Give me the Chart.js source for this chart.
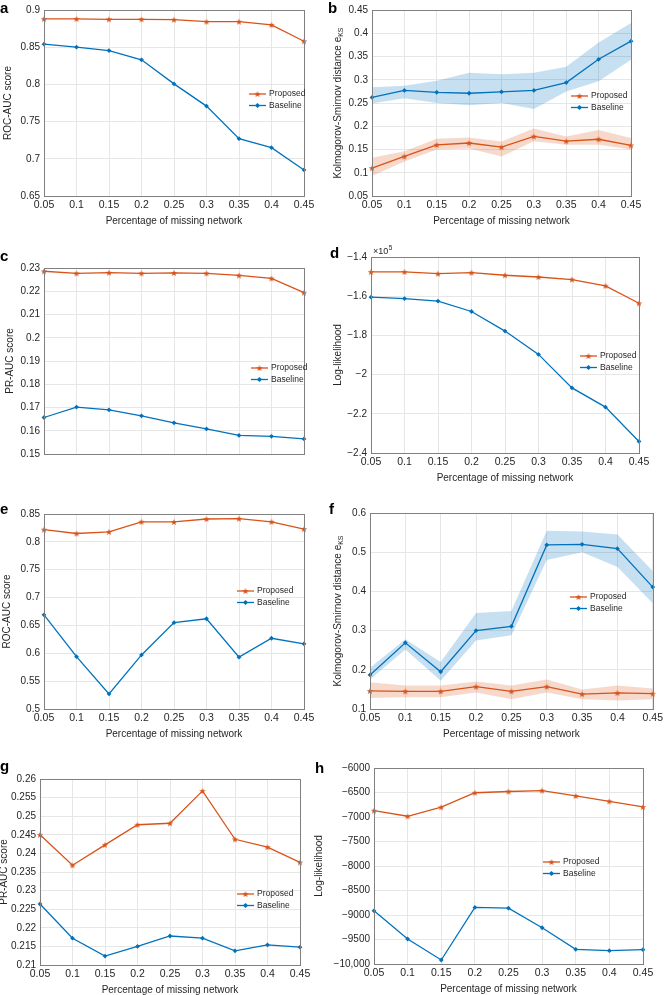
<!DOCTYPE html>
<html>
<head>
<meta charset="utf-8">
<script src="https://cdn.jsdelivr.net/npm/chart.js@4.4.0/dist/chart.umd.min.js"></script>
<style>
  body { margin: 0; background: #fff; width: 666px; height: 995px; position: relative; overflow: hidden;
         font-family: "Liberation Sans", Arial, sans-serif; }
  canvas { position: absolute; }
  .tag { position: absolute; font-weight: bold; font-size: 15px; line-height: 15px; color: #000; }
</style>
</head>
<body>
<script>
// x categories shared by every panel
const pct = ['0.05', '0.1', '0.15', '0.2', '0.25', '0.3', '0.35', '0.4', '0.45'];

// a: ROC-AUC
const rocPropA = [0.888, 0.888, 0.8875, 0.8875, 0.887, 0.8843, 0.8843, 0.880, 0.858];
const rocBaseA = [0.854, 0.850, 0.8455, 0.833, 0.8007, 0.7708, 0.727, 0.715, 0.685];

// b: KS distance with bands
const ksPropB   = [0.110, 0.135, 0.160, 0.164, 0.155, 0.178, 0.168, 0.172, 0.159];
const ksPropBHi = [0.132, 0.146, 0.173, 0.176, 0.167, 0.195, 0.178, 0.192, 0.175];
const ksPropBLo = [0.093, 0.124, 0.150, 0.152, 0.135, 0.168, 0.160, 0.160, 0.150];
const ksBaseB   = [0.262, 0.277, 0.273, 0.271, 0.274, 0.277, 0.294, 0.344, 0.383];
const ksBaseBHi = [0.284, 0.287, 0.298, 0.315, 0.312, 0.315, 0.328, 0.380, 0.422];
const ksBaseBLo = [0.249, 0.260, 0.250, 0.245, 0.250, 0.237, 0.275, 0.297, 0.343];

// c: PR-AUC
const prPropC = [0.2286, 0.2277, 0.2280, 0.2277, 0.2279, 0.2277, 0.2268, 0.2255, 0.2194];
const prBaseC = [0.1657, 0.1702, 0.1690, 0.1664, 0.1634, 0.1608, 0.1580, 0.1576, 0.1565];

// d: log-likelihood
const llPropD = [-147600, -147600, -148500, -148000, -149300, -150200, -151500, -154700, -163600];
const llBaseD = [-160500, -161200, -162500, -167800, -177800, -189700, -206800, -216600, -234100];

// e: ROC-AUC
const rocPropE = [0.822, 0.815, 0.818, 0.836, 0.8357, 0.841, 0.8416, 0.836, 0.823];
const rocBaseE = [0.669, 0.594, 0.527, 0.597, 0.655, 0.662, 0.593, 0.627, 0.617];

// f: KS distance with bands
const ksPropF   = [0.146, 0.145, 0.145, 0.157, 0.145, 0.157, 0.138, 0.141, 0.139];
const ksPropFHi = [0.168, 0.160, 0.160, 0.170, 0.160, 0.175, 0.150, 0.160, 0.152];
const ksPropFLo = [0.128, 0.130, 0.130, 0.142, 0.125, 0.142, 0.125, 0.122, 0.125];
const ksBaseF   = [0.187, 0.269, 0.195, 0.300, 0.311, 0.5185, 0.520, 0.509, 0.411];
const ksBaseFHi = [0.205, 0.278, 0.220, 0.345, 0.350, 0.555, 0.553, 0.545, 0.452];
const ksBaseFLo = [0.175, 0.252, 0.172, 0.275, 0.288, 0.480, 0.500, 0.462, 0.370];

// g: PR-AUC
const prPropG = [0.2450, 0.2368, 0.2423, 0.2477, 0.2481, 0.2568, 0.2438, 0.2417, 0.2376];
const prBaseG = [0.2264, 0.2172, 0.2124, 0.2150, 0.2178, 0.2172, 0.2138, 0.2154, 0.2148];

// h: log-likelihood
const llPropH = [-6870, -6985, -6800, -6505, -6480, -6460, -6570, -6680, -6795];
const llBaseH = [-8915, -9490, -9918, -8845, -8860, -9260, -9700, -9728, -9708];

const ORANGE = '#D95319';
const BLUE = '#0072BD';
const FONT = '"Liberation Sans", Arial, sans-serif';

// filled five point star for "Proposed"
const star = (() => {
  const c = document.createElement('canvas');
  c.width = 8; c.height = 8;
  const g = c.getContext('2d');
  g.fillStyle = ORANGE;
  g.beginPath();
  for (let i = 0; i < 10; i++) {
    const r = i % 2 ? 1.4 : 3.4;
    const a = -Math.PI / 2 + i * Math.PI / 5;
    g.lineTo(4 + r * Math.cos(a), 4.3 + r * Math.sin(a));
  }
  g.closePath();
  g.fill();
  return c;
})();

function fmt(v) {
  let s;
  if (Math.abs(v) >= 10000) s = Math.round(v).toLocaleString('en-US');
  else s = String(parseFloat(v.toFixed(6)));
  return s.replace('-', '\u2212');
}

function line(data, color, marker) {
  return {
    data, borderColor: color, backgroundColor: color, borderWidth: 1.3,
    pointStyle: marker, pointRadius: marker === star ? 3.5 : 2.4, pointBorderWidth: 0,
    pointBackgroundColor: color, fill: false, tension: 0, order: 1
  };
}
function band(hi, lo, color) {
  return [
    { data: hi, borderWidth: 0, pointRadius: 0, fill: false, order: 3 },
    { data: lo, borderWidth: 0, pointRadius: 0, fill: '-1', backgroundColor: color, order: 3 }
  ];
}

const decor = {
  id: 'decor',
  afterDatasetsDraw(chart, args, o) {
    const { ctx, chartArea: ca } = chart;
    ctx.save();
    // axes box
    ctx.strokeStyle = '#808080';
    ctx.lineWidth = 1;
    ctx.strokeRect(Math.round(ca.left) + 0.5, Math.round(ca.top) + 0.5,
                   Math.round(ca.right - ca.left), Math.round(ca.bottom - ca.top));
    ctx.fillStyle = '#262626';
    // x title
    if (o.xTitle) {
      ctx.font = '10px ' + FONT;
      ctx.textAlign = 'center';
      ctx.textBaseline = 'middle';
      ctx.fillText('Percentage of missing network', (ca.left + ca.right) / 2, ca.bottom + 25);
    }
    // y title
    ctx.translate(o.yTitleX, (ca.top + ca.bottom) / 2);
    ctx.rotate(-Math.PI / 2);
    ctx.font = '10px ' + FONT;
    const w = ctx.measureText(o.yTitle).width;
    let ws = 0;
    if (o.sub) { ctx.font = '7px ' + FONT; ws = ctx.measureText(o.sub).width; }
    ctx.font = '10px ' + FONT;
    ctx.textAlign = 'left';
    ctx.textBaseline = 'middle';
    ctx.fillText(o.yTitle, -(w + ws) / 2, 0);
    if (o.sub) {
      ctx.font = '7px ' + FONT;
      ctx.fillText(o.sub, -(w + ws) / 2 + w, 3);
    }
    ctx.restore();
    ctx.save();
    // exponent label
    if (o.exp) {
      ctx.fillStyle = '#262626';
      ctx.textBaseline = 'alphabetic';
      ctx.textAlign = 'left';
      ctx.font = '9px ' + FONT;
      ctx.fillText('\u00d710', ca.left + 2, ca.top - 3);
      const w2 = ctx.measureText('\u00d710').width;
      ctx.font = '6.5px ' + FONT;
      ctx.fillText(o.exp, ca.left + 2 + w2 + 0.5, ca.top - 7);
    }
    // legend
    const L = o.legend;
    const rows = [['Proposed', ORANGE, 'star'], ['Baseline', BLUE, 'dia']];
    rows.forEach((r, i) => {
      const y = L[1] + i * 11.5;
      ctx.strokeStyle = r[1];
      ctx.lineWidth = 1.3;
      ctx.beginPath();
      ctx.moveTo(L[0], y); ctx.lineTo(L[0] + 17, y);
      ctx.stroke();
      const mx = L[0] + 8.5;
      if (r[2] === 'star') ctx.drawImage(star, mx - 4, y - 4);
      else {
        ctx.fillStyle = r[1];
        ctx.beginPath();
        ctx.moveTo(mx, y - 2.6); ctx.lineTo(mx + 2.6, y); ctx.lineTo(mx, y + 2.6); ctx.lineTo(mx - 2.6, y);
        ctx.closePath(); ctx.fill();
      }
      ctx.fillStyle = '#262626';
      ctx.font = '8.5px ' + FONT;
      ctx.textAlign = 'left';
      ctx.textBaseline = 'middle';
      ctx.fillText(r[0], L[0] + 20, y);
    });
    ctx.restore();
  }
};

// layout of each panel: cell (canvas) and plot rectangle in page pixels
const panels = [
  { tag: 'a', tagPos: [0, 0], cell: [0, 0, 333, 245], plot: [44, 9.5, 304, 196], y: [0.65, 0.9, 0.05],
    yTitle: 'ROC-AUC score', yTitleX: 8, legend: [249, 94],
    sets: [line(rocPropA, ORANGE, star), line(rocBaseA, BLUE, 'rectRot')] },
  { tag: 'b', tagPos: [328, 0], cell: [310, 0, 356, 245], plot: [372, 10, 631, 196], y: [0.05, 0.45, 0.05],
    yTitle: 'Kolmogorov-Smirnov distance e', sub: 'KS', yTitleX: 338, legend: [571, 96],
    sets: [line(ksPropB, ORANGE, star), line(ksBaseB, BLUE, 'rectRot'),
           ...band(ksPropBHi, ksPropBLo, 'rgba(217,83,25,0.22)'),
           ...band(ksBaseBHi, ksBaseBLo, 'rgba(0,114,189,0.22)')] },
  { tag: 'c', tagPos: [0, 248], cell: [0, 245, 333, 245], plot: [44, 268, 304, 454], y: [0.15, 0.23, 0.01],
    yTitle: 'PR-AUC score', yTitleX: 10, legend: [251, 368], noX: true,
    sets: [line(prPropC, ORANGE, star), line(prBaseC, BLUE, 'rectRot')] },
  { tag: 'd', tagPos: [330, 245], cell: [310, 245, 356, 245], plot: [371, 257, 639, 453], y: [-240000, -140000, 20000],
    yTitle: 'Log-likelihood', yTitleX: 338, legend: [580, 356], exp: '5', scale: 1e5,
    sets: [line(llPropD, ORANGE, star), line(llBaseD, BLUE, 'rectRot')] },
  { tag: 'e', tagPos: [0, 501], cell: [0, 490, 333, 255], plot: [44, 514, 304, 709], y: [0.5, 0.85, 0.05],
    yTitle: 'ROC-AUC score', yTitleX: 7, legend: [237, 591],
    sets: [line(rocPropE, ORANGE, star), line(rocBaseE, BLUE, 'rectRot')] },
  { tag: 'f', tagPos: [329, 501], cell: [310, 490, 356, 255], plot: [370, 513, 656, 709], y: [0.1, 0.6, 0.1],
    yTitle: 'Kolmogorov-Smirnov distance e', sub: 'KS', yTitleX: 338, legend: [570, 597],
    sets: [line(ksPropF, ORANGE, star), line(ksBaseF, BLUE, 'rectRot'),
           ...band(ksPropFHi, ksPropFLo, 'rgba(217,83,25,0.22)'),
           ...band(ksBaseFHi, ksBaseFLo, 'rgba(0,114,189,0.22)')] },
  { tag: 'g', tagPos: [0, 758], cell: [0, 745, 333, 250], plot: [40, 779, 300, 965], y: [0.21, 0.26, 0.005],
    yTitle: 'PR-AUC score', yTitleX: 4.5, legend: [237, 894],
    sets: [line(prPropG, ORANGE, star), line(prBaseG, BLUE, 'rectRot')] },
  { tag: 'h', tagPos: [315, 760], cell: [310, 745, 356, 250], plot: [374, 768, 643, 964], y: [-10000, -6000, 500],
    yTitle: 'Log-likelihood', yTitleX: 319, legend: [543, 862],
    sets: [line(llPropH, ORANGE, star), line(llBaseH, BLUE, 'rectRot')] }
];

panels.forEach(p => {
  const [cx, cy, cw, ch] = p.cell;
  const [pl, pt, pr, pb] = p.plot;
  const cv = document.createElement('canvas');
  cv.width = cw; cv.height = ch;
  cv.style.left = cx + 'px'; cv.style.top = cy + 'px';
  document.body.appendChild(cv);

  const tag = document.createElement('div');
  tag.className = 'tag';
  tag.textContent = p.tag;
  tag.style.left = p.tagPos[0] + 'px'; tag.style.top = p.tagPos[1] + 'px';
  document.body.appendChild(tag);

  const yw = pl - cx, xh = cy + ch - pb;
  new Chart(cv.getContext('2d'), {
    type: 'line',
    data: { labels: pct, datasets: p.sets },
    options: {
      responsive: false,
      animation: false,
      layout: { padding: { top: pt - cy, right: cx + cw - pr, left: 0, bottom: 0 } },
      plugins: {
        legend: { display: false },
        tooltip: { enabled: false },
        decor: { yTitle: p.yTitle, sub: p.sub, yTitleX: p.yTitleX - cx,
                 legend: [p.legend[0] - cx, p.legend[1] - cy], xTitle: !p.noX, exp: p.exp }
      },
      scales: {
        x: {
          type: 'category',
          offset: false,
          grid: { color: '#e6e6e6', drawTicks: false },
          border: { display: false },
          ticks: { display: !p.noX, color: '#262626', font: { family: FONT, size: 10.5 }, padding: 3,
                   maxRotation: 0, autoSkip: false },
          afterFit: s => { s.height = xh; }
        },
        y: {
          min: p.y[0], max: p.y[1],
          grid: { color: '#e6e6e6', drawTicks: false },
          border: { display: false },
          ticks: { stepSize: p.y[2], color: '#262626', font: { family: FONT, size: 10 }, padding: 4,
                   callback: v => fmt(p.scale ? v / p.scale : v) },
          afterFit: s => { s.width = yw; }
        }
      }
    },
    plugins: [decor]
  });
});
</script>
</body>
</html>
